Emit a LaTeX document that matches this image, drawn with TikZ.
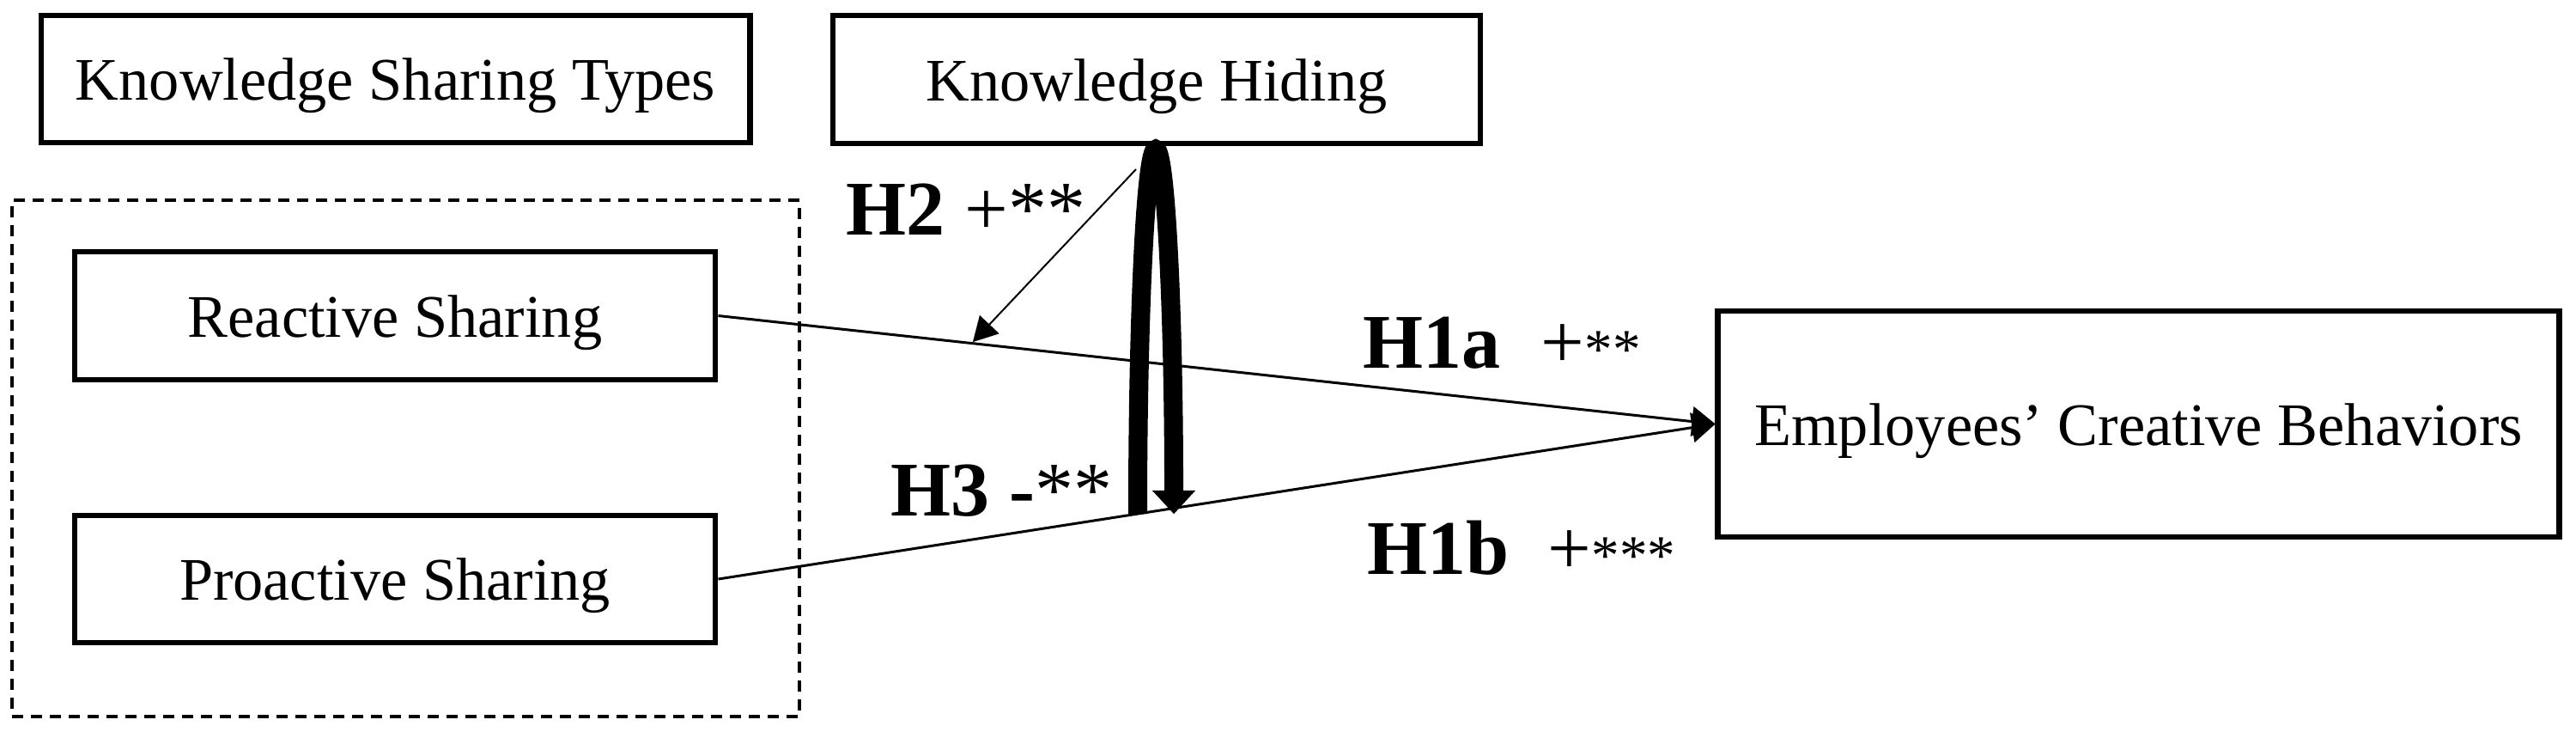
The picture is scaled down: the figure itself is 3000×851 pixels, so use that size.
\documentclass[tikz,border=0pt]{standalone}
\usepackage{fontspec}
\setmainfont{Liberation Serif}
\usetikzlibrary{arrows.meta}
\begin{document}
\begin{tikzpicture}[x=0.01cm, y=-0.01cm,
  box/.style={draw, line width=0.065cm, inner sep=0pt, align=center,
    font=\fontsize{20pt}{24pt}\selectfont, text height=15pt, text depth=0.8pt},
  grpbox/.style={draw, dash pattern=on 0.13cm off 0.09cm, line width=0.04cm, inner sep=0pt},
  link/.style={line width=0.03cm, -{Triangle[length=0.27cm, width=0.35cm, line width=0.01pt]}},
  modlink/.style={line width=0.02cm, -{Triangle[length=0.28cm, width=0.31cm, line width=0.01pt]}},
  thickloop/.style={line width=0.22cm, -{Triangle[length=0.27cm, width=0.5cm, line width=0.01pt]}},
  hyp/.style={anchor=base west, inner sep=0pt, font=\fontsize{25.6pt}{30pt}\selectfont}]
\useasboundingbox (0,0) rectangle (3000,851);

\node[box, minimum width=8.25cm, minimum height=1.48cm] (kst) at (460.5,92) {Knowledge Sharing Types};
\node[box, minimum width=7.54cm, minimum height=1.49cm] (kh) at (1347,92.5) {Knowledge Hiding};
\node[grpbox, minimum width=9.17cm, minimum height=6.01cm] (grp) at (472.5,533.5) {};
\node[box, minimum width=7.46cm, minimum height=1.49cm] (rs) at (460,367.5) {Reactive Sharing};
\node[box, minimum width=7.46cm, minimum height=1.48cm] (ps) at (460,674) {Proactive Sharing};
\node[box, minimum width=9.79cm, minimum height=2.63cm] (ecb) at (2490.5,493.5) {Employees’ Creative Behaviors};

\draw[link] (rs.east) -- (ecb.west);
\draw[link] (ps.east) -- (ecb.west);

\coordinate (h3a) at (1325,598);
\draw[thickloop] (h3a) arc[start angle=180, end angle=0, x radius=0.21cm, y radius=4.24cm];

\coordinate (h2s) at (1323,197);
\coordinate (h2e) at (1133,398);
\draw[modlink] (h2s) -- (h2e);

\node[hyp] (lh2) at (985,273) {\textbf{H2} +**};
\node[hyp] (lh3) at (1037,600) {\textbf{H3 -}**};
\node[hyp] (lh1a) at (1587,428) {\textbf{H1a}\hspace{0.47cm}+{\fontsize{18.5pt}{20pt}\selectfont **}};
\node[hyp] (lh1b) at (1592,668) {\textbf{H1b}\hspace{0.45cm}+{\fontsize{18.5pt}{20pt}\selectfont ***}};
\end{tikzpicture}
\end{document}
